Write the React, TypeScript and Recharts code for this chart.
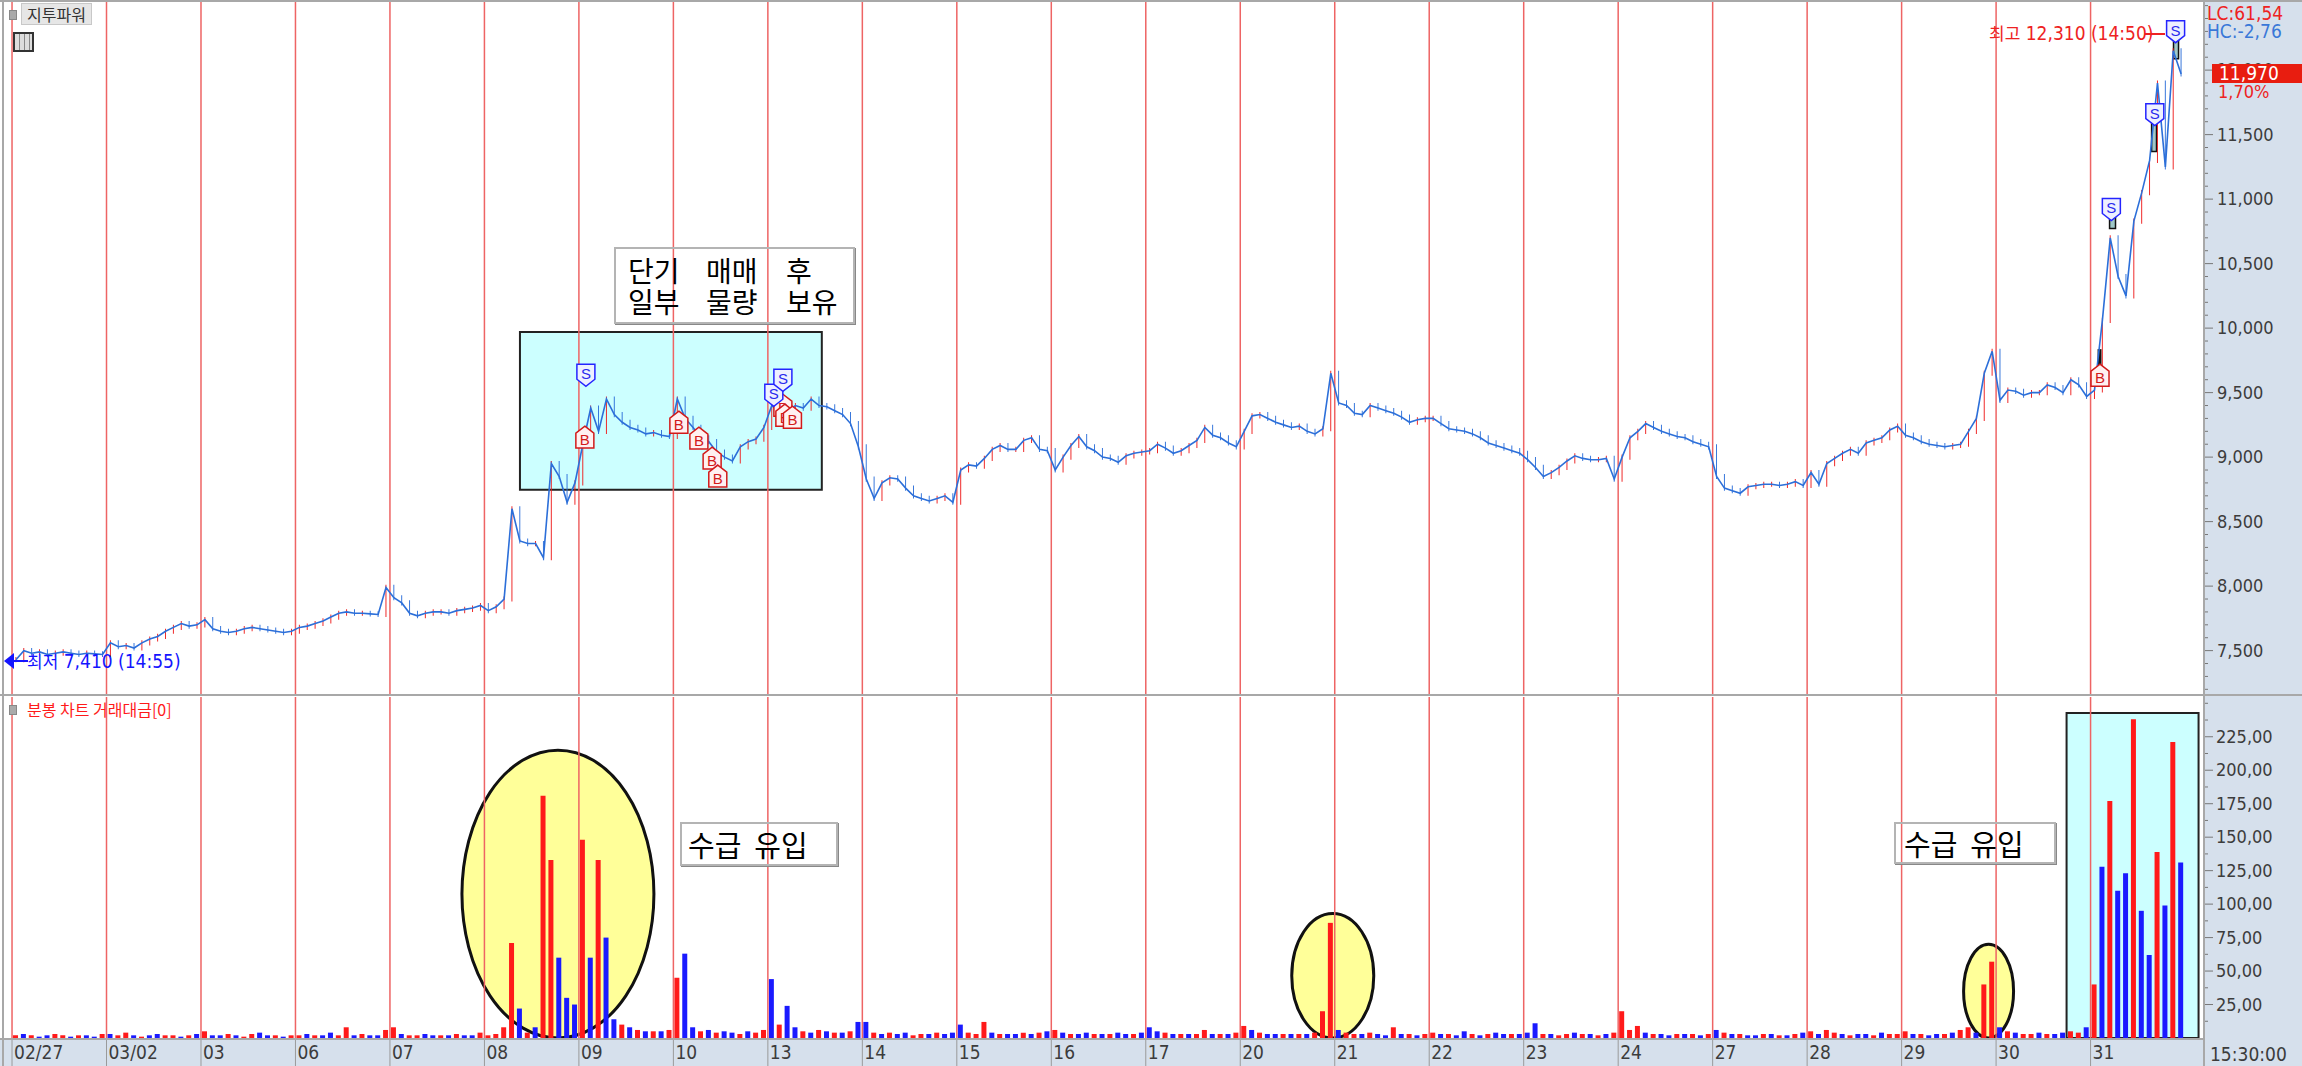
import { ComposedChart, Bar, Line, Scatter, XAxis, YAxis, ReferenceLine, ReferenceArea, Cell } from 'recharts'

// trading days shown on the x axis
const DAYS = ['02/27', '03/02', '03', '06', '07', '08', '09', '10', '13', '14', '15', '16', '17', '20', '21', '22', '23', '24', '27', '28', '29', '30', '31']

// closes sampled 12 times a day (won)
const p0227 = [7430, 7500, 7480, 7490, 7470, 7480, 7490, 7480, 7470, 7480, 7475, 7470]
const p0302 = [7560, 7530, 7540, 7520, 7560, 7590, 7610, 7650, 7680, 7710, 7690, 7700]
const p0303 = [7740, 7670, 7650, 7640, 7650, 7670, 7680, 7670, 7660, 7650, 7640, 7650]
const p0306 = [7680, 7690, 7710, 7730, 7760, 7790, 7800, 7790, 7790, 7785, 7780, 7990]
const p0307 = [7910, 7870, 7790, 7770, 7790, 7800, 7800, 7790, 7810, 7820, 7830, 7850]
const p0308 = [7810, 7840, 7900, 8600, 8350, 8330, 8330, 8220, 8950, 8850, 8650, 8800]
const p0309 = [9100, 9380, 9200, 9450, 9330, 9270, 9230, 9210, 9180, 9190, 9170, 9160]
const p0310 = [9450, 9300, 9230, 9150, 9120, 9040, 9000, 8970, 9080, 9120, 9140, 9230]
const p0313 = [9400, 9340, 9360, 9400, 9380, 9450, 9400, 9390, 9360, 9330, 9260, 9080]
const p0314 = [8830, 8680, 8800, 8840, 8830, 8760, 8700, 8680, 8660, 8680, 8700, 8650]
const p0315 = [8900, 8940, 8930, 8990, 9060, 9090, 9060, 9060, 9130, 9150, 9060, 9050]
const p0316 = [8900, 9000, 9090, 9160, 9080, 9050, 9000, 8990, 8960, 9010, 9030, 9040]
const p0317 = [9050, 9100, 9070, 9030, 9050, 9090, 9130, 9230, 9170, 9150, 9110, 9080]
const p0320 = [9200, 9320, 9330, 9300, 9270, 9250, 9230, 9240, 9200, 9180, 9220, 9650]
const p0321 = [9420, 9400, 9340, 9330, 9400, 9380, 9360, 9340, 9310, 9270, 9290, 9300]
const p0322 = [9300, 9260, 9220, 9210, 9200, 9180, 9150, 9110, 9090, 9070, 9050, 9030]
const p0323 = [8980, 8920, 8850, 8880, 8920, 8970, 9010, 8990, 8980, 8980, 8990, 8830]
const p0324 = [9000, 9150, 9200, 9260, 9230, 9200, 9180, 9160, 9150, 9120, 9100, 9080]
const p0327 = [8850, 8760, 8740, 8720, 8770, 8780, 8790, 8790, 8780, 8790, 8810, 8780]
const p0328 = [8880, 8790, 8950, 8990, 9030, 9060, 9030, 9110, 9130, 9150, 9210, 9240]
const p0329 = [9170, 9150, 9120, 9100, 9090, 9080, 9090, 9100, 9200, 9300, 9650, 9820]
const p0330 = [9440, 9520, 9510, 9480, 9500, 9500, 9560, 9540, 9500, 9600, 9560, 9470]
const p0331 = [9520, 10060, 10700, 10400, 10250, 10830, 11050, 11300, 11900, 11250, 12150, 11970]
const PRICE_DAYS = [p0227, p0302, p0303, p0306, p0307, p0308, p0309, p0310, p0313, p0314, p0315, p0316, p0317, p0320, p0321, p0322, p0323, p0324, p0327, p0328, p0329, p0330, p0331]

// trading value per sample (axis units) and bar colour (r = up, b = down)
const v0227 = [2, 3, 2, 1, 2, 3, 2, 1, 2, 2, 1, 3]
const v0302 = [3, 2, 4, 2, 1, 2, 3, 2, 2, 1, 2, 3]
const v0303 = [5, 2, 2, 3, 2, 1, 3, 4, 2, 2, 1, 2]
const v0306 = [2, 3, 2, 2, 4, 2, 8, 2, 3, 2, 2, 6]
const v0307 = [8, 3, 2, 2, 3, 2, 2, 2, 3, 2, 2, 4]
const v0308 = [2, 3, 8, 71, 22, 4, 8, 181, 133, 60, 30, 25]
const v0309 = [148, 60, 133, 75, 14, 10, 8, 6, 5, 5, 5, 6]
const v0310 = [45, 63, 8, 5, 6, 4, 5, 4, 3, 5, 4, 6]
const v0313 = [44, 10, 24, 8, 5, 4, 6, 5, 4, 4, 5, 12]
const v0314 = [12, 4, 3, 4, 3, 4, 2, 3, 3, 4, 3, 4]
const v0315 = [10, 4, 3, 12, 4, 3, 3, 3, 4, 3, 4, 5]
const v0316 = [6, 4, 3, 3, 4, 3, 3, 3, 4, 3, 3, 4]
const v0317 = [8, 5, 4, 3, 3, 3, 3, 6, 3, 3, 3, 4]
const v0320 = [9, 6, 4, 3, 3, 3, 3, 3, 3, 4, 20, 86]
const v0321 = [6, 4, 3, 3, 4, 3, 2, 8, 3, 3, 2, 3]
const v0322 = [4, 3, 3, 2, 5, 3, 2, 3, 4, 3, 3, 3]
const v0323 = [4, 11, 3, 3, 2, 3, 4, 3, 3, 2, 3, 4]
const v0324 = [20, 6, 9, 4, 3, 3, 2, 3, 3, 3, 2, 3]
const v0327 = [6, 4, 3, 3, 2, 2, 3, 3, 2, 2, 3, 4]
const v0328 = [5, 3, 6, 4, 3, 2, 3, 3, 2, 4, 3, 3]
const v0329 = [5, 3, 3, 2, 3, 3, 4, 6, 8, 4, 40, 57]
const v0330 = [8, 5, 4, 3, 3, 4, 3, 3, 4, 5, 4, 8]
const v0331 = [40, 128, 177, 110, 123, 238, 95, 62, 139, 99, 221, 131]
const VOL_DAYS = [v0227, v0302, v0303, v0306, v0307, v0308, v0309, v0310, v0313, v0314, v0315, v0316, v0317, v0320, v0321, v0322, v0323, v0324, v0327, v0328, v0329, v0330, v0331]
const VOL_COLORS = [
  'rbrbbrrbrbbr', 'brrbrbbrrbrb', 'rbbrbrrbbrbr', 'rbrbbrrbrbbr', 'rbrrbbrbrbbr',
  'rrrrbrbrrbbb', 'rbrbbrbrbrbr', 'rbbrbrbbrbrr', 'brbbrbrbrbrb', 'brbrbbrrbrbb',
  'brrrbrbbrbrb', 'rbrbbrbrbbrb', 'bbrbrbrrbrbr', 'rbrbbrbrbrrr', 'brrbrbbrbrbr',
  'rbrbbrbrbbrb', 'bbrbrrbrbrbr', 'rrrbrbbrbrbr', 'brbrbbrbrbrb', 'rbrrbrbbrbrr',
  'rbrbbrbrrbrr', 'brbrrbrbbrrb', 'rbrbbrbbrbrb',
]

// buy / sell signal markers (x in trading days, price)
const SELL_X = [6.074, 8.063, 8.159, 22.22, 22.68, 22.9]
const SELL_P = [9627, 9472, 9588, 10912, 11647, 12290]
const BUY_X = [6.063, 7.058, 7.27, 7.41, 7.47, 8.159, 8.18, 8.26, 22.1]
const BUY_P = [9163, 9279, 9155, 9000, 8861, 9410, 9333, 9317, 9643]

const PRICE_MAJOR = [7500, 8000, 8500, 9000, 9500, 10000, 10500, 11000, 11500, 12000]
const VOL_MAJOR = [25, 50, 75, 100, 125, 150, 175, 200, 225]

const PER_DAY = 12
const X_DOMAIN: [number, number] = [-0.085, 23.19]
const PRICE_DOMAIN: [number, number] = [7156, 12528]
const VOL_DOMAIN: [number, number] = [0, 254.7]
const RED = '#ee1c1c'
const BLUE = '#2c6fd9'
const VRED = '#ff1a1a'
const VBLUE = '#1a1aff'
const DAYLINE = '#ee6464'
const BAND = '#d6e0ec'
const NARROW = "'Liberation Sans Narrow', 'DejaVu Sans Condensed', Arial, sans-serif"
const KR = "'Noto Sans CJK KR', 'Noto Sans', sans-serif"

const priceRows = (() => {
  const flat = PRICE_DAYS.flatMap((vals, d) => vals.map((p, k) => ({ x: d + (k + 0.5) / PER_DAY, p })))
  return flat.map((r, i) => {
    const prev = i === 0 ? r.p : flat[i - 1].p
    return { ...r, range: [Math.min(prev, r.p) - 20, Math.max(prev, r.p) + 20], up: r.p >= prev }
  })
})()

const volRows = VOL_DAYS.flatMap((vals, d) =>
  vals.map((v, k) => ({ x: d + (k + 0.5) / PER_DAY, v, c: VOL_COLORS[d][k] })))

const sells = SELL_X.map((x, i) => ({ x, p: SELL_P[i] }))
const buys = BUY_X.map((x, i) => ({ x, p: BUY_P[i] }))

const priceTicks: number[] = []
for (let t = 7200; t <= 12500; t += 100) priceTicks.push(t)
const volTicks: number[] = []
for (let t = 12.5; t <= 250; t += 12.5) volTicks.push(t)

function PriceTick({ x, y, payload }: any) {
  const major = PRICE_MAJOR.includes(payload.value)
  const x0 = x - 8
  return (
    <g>
      <line x1={x0} x2={x0 + (major ? 10 : 5)} y1={y} y2={y} stroke="#777" />
      {major && (
        <text x={x0 + 14} y={y + 6} fontSize={18} fill="#3c3c3c" fontFamily={NARROW}>
          {payload.value.toLocaleString('en-US')}
        </text>
      )}
    </g>
  )
}

function VolTick({ x, y, payload }: any) {
  const major = VOL_MAJOR.includes(payload.value)
  const x0 = x - 8
  return (
    <g>
      <line x1={x0} x2={x0 + (major ? 10 : 5)} y1={y} y2={y} stroke="#777" />
      {major && (
        <text x={x0 + 13} y={y + 6} fontSize={18} fill="#3c3c3c" fontFamily={NARROW}>
          {payload.value},00
        </text>
      )}
    </g>
  )
}

function DayTick({ x, payload }: any) {
  return (
    <g>
      <line x1={x} x2={x} y1={343} y2={371} stroke="#9a9a9a" />
      <text x={x + 2} y={364} fontSize={19} fill="#3c3c3c" fontFamily={NARROW}>
        {DAYS[payload.value]}
      </text>
    </g>
  )
}

function SellMark({ cx, cy }: any) {
  return (
    <g>
      <polygon
        points={`${cx - 9},${cy - 12} ${cx + 9},${cy - 12} ${cx + 9},${cy + 3} ${cx},${cy + 10} ${cx - 9},${cy + 3}`}
        fill="#eef0ff" stroke="#2424ff" strokeWidth={1.5}
      />
      <text x={cx} y={cy + 3} textAnchor="middle" fontSize={15} fill="#2a2aee" fontFamily="Arial, sans-serif">S</text>
    </g>
  )
}

function BuyMark({ cx, cy }: any) {
  return (
    <g>
      <polygon
        points={`${cx},${cy - 10} ${cx + 9},${cy - 3} ${cx + 9},${cy + 12} ${cx - 9},${cy + 12} ${cx - 9},${cy - 3}`}
        fill="#fff0f0" stroke="#d21a1a" strokeWidth={1.5}
      />
      <text x={cx} y={cy + 9} textAnchor="middle" fontSize={15} fill="#d21a1a" fontFamily="Arial, sans-serif">B</text>
    </g>
  )
}

function Oval(props: any) {
  const { x, y, width, height } = props
  return (
    <ellipse cx={x + width / 2} cy={y + height / 2} rx={width / 2} ry={height / 2}
      fill="#ffff99" stroke="#111" strokeWidth={3} />
  )
}

const boxStyle: React.CSSProperties = {
  position: 'absolute', border: '2px solid #b4b4b4', boxShadow: '1px 1px 0 #888',
  fontFamily: KR, color: '#000', boxSizing: 'border-box',
}

export default function App() {
  return (
    <div style={{ position: 'fixed', left: 0, top: 0, width: 2302, height: 1066, background: '#fff', overflow: 'hidden' }}>
      <div style={{ position: 'absolute', left: 2203, top: 0, width: 99, height: 1066, background: BAND }} />
      <div style={{ position: 'absolute', left: 0, top: 1038, width: 2302, height: 28, background: BAND }} />

      <div style={{ position: 'absolute', left: 0, top: 0 }}>
        <ComposedChart width={2302} height={695} data={priceRows} margin={{ top: 2, right: 0, bottom: 0, left: 4 }}>
          <XAxis type="number" dataKey="x" domain={X_DOMAIN} hide allowDataOverflow />
          <YAxis orientation="right" domain={PRICE_DOMAIN} ticks={priceTicks} interval={0} width={99}
            axisLine={false} tickLine={false} tick={<PriceTick />} allowDataOverflow />
          <ReferenceArea x1={5.376} x2={8.571} y1={8747} y2={9969} fill="#ccffff" fillOpacity={1} stroke="#222" strokeWidth={2} />
          {DAYS.map((d, i) => <ReferenceLine key={d} x={i} stroke={DAYLINE} strokeWidth={1.5} />)}
          <Line dataKey="p" stroke={BLUE} strokeWidth={1.6} dot={false} isAnimationActive={false} />
          <Bar dataKey="range" barSize={4} isAnimationActive={false}>
            {priceRows.map((r, i) => <Cell key={i} fill={r.up ? RED : BLUE} />)}
          </Bar>
          <ReferenceArea x1={22.074} x2={22.116} y1={9551} y2={9837} fill="#111" fillOpacity={1} />
          <Scatter data={buys} dataKey="p" shape={<BuyMark />} isAnimationActive={false} />
          <Scatter data={sells} dataKey="p" shape={<SellMark />} isAnimationActive={false} />
          <ReferenceArea x1={22.201} x2={22.264} y1={10773} y2={10982} fill="#9fc8c8" fillOpacity={1} stroke="#111" strokeWidth={1.5} />
          <ReferenceArea x1={22.646} x2={22.698} y1={11369} y2={11717} fill="#9fc8c8" fillOpacity={1} stroke="#111" strokeWidth={1.5} />
          <ReferenceArea x1={22.878} x2={22.931} y1={12088} y2={12351} fill="#9fc8c8" fillOpacity={1} stroke="#111" strokeWidth={1.5} />
        </ComposedChart>
      </div>

      <div style={{ position: 'absolute', left: 0, top: 695 }}>
        <ComposedChart width={2302} height={371} data={volRows} margin={{ top: 2, right: 0, bottom: 0, left: 4 }}>
          <XAxis type="number" dataKey="x" domain={X_DOMAIN} ticks={DAYS.map((_, i) => i)} interval={0}
            height={28} axisLine={false} tickLine={false} tick={<DayTick />} allowDataOverflow />
          <YAxis orientation="right" domain={VOL_DOMAIN} ticks={volTicks} interval={0} width={99}
            axisLine={false} tickLine={false} tick={<VolTick />} allowDataOverflow />
          <ReferenceArea x1={21.746} x2={23.143} y1={0} y2={242.7} fill="#ccffff" fillOpacity={1} stroke="#222" strokeWidth={2} />
          <ReferenceArea x1={4.762} x2={6.794} y1={0} y2={215} shape={<Oval />} />
          <ReferenceArea x1={13.545} x2={14.413} y1={0} y2={93} shape={<Oval />} />
          <ReferenceArea x1={20.656} x2={21.185} y1={0} y2={70} shape={<Oval />} />
          {DAYS.map((d, i) => <ReferenceLine key={d} x={i} stroke={DAYLINE} strokeWidth={1.5} />)}
          <Bar dataKey="v" barSize={5} isAnimationActive={false}>
            {volRows.map((r, i) => <Cell key={i} fill={r.c === 'r' ? VRED : VBLUE} />)}
          </Bar>
        </ComposedChart>
      </div>

      {/* frame lines */}
      <div style={{ position: 'absolute', left: 0, top: 0, width: 2302, height: 2, background: '#a8a8a8' }} />
      <div style={{ position: 'absolute', left: 2, top: 0, width: 2, height: 1066, background: '#a8a8a8' }} />
      <div style={{ position: 'absolute', left: 0, top: 694, width: 2302, height: 2, background: '#a8a8a8' }} />
      <div style={{ position: 'absolute', left: 2203, top: 0, width: 2, height: 1066, background: '#a8a8a8' }} />
      <div style={{ position: 'absolute', left: 0, top: 1038, width: 2203, height: 2, background: '#a8a8a8' }} />

      {/* panel titles */}
      <div style={{ position: 'absolute', left: 9, top: 10, width: 6, height: 8, background: '#aaa', border: '1px solid #888' }} />
      <div style={{ position: 'absolute', left: 21, top: 3, padding: '0 5px', height: 20, background: '#e6e6e6', border: '1px solid #c8c8c8', fontFamily: KR, fontSize: 16, lineHeight: '20px', color: '#333' }}>지투파워</div>
      <div style={{ position: 'absolute', left: 13, top: 32, width: 17, height: 16, border: '2px solid #333', background: 'repeating-linear-gradient(90deg, #ddd 0 4px, #888 4px 5px)' }} />
      <div style={{ position: 'absolute', left: 9, top: 705, width: 6, height: 8, background: '#aaa', border: '1px solid #888' }} />
      <div style={{ position: 'absolute', left: 27, top: 698, fontFamily: KR, fontSize: 16, color: '#ff1a1a', lineHeight: '22px' }}>분봉 차트 거래대금[0]</div>

      {/* right axis annotations */}
      <div style={{ position: 'absolute', left: 2207, top: 3, fontFamily: NARROW, fontSize: 19, color: '#ee2222', lineHeight: '20px' }}>LC:61,54</div>
      <div style={{ position: 'absolute', left: 2207, top: 21, fontFamily: NARROW, fontSize: 19, color: '#3a78d8', lineHeight: '20px' }}>HC:-2,76</div>
      <div style={{ position: 'absolute', left: 2212, top: 64, width: 90, height: 19, background: '#e81d10', color: '#fff', fontFamily: NARROW, fontSize: 19, lineHeight: '19px', paddingLeft: 7, boxSizing: 'border-box' }}>11,970</div>
      <div style={{ position: 'absolute', left: 2218, top: 83, fontFamily: NARROW, fontSize: 18, color: '#ee2222', lineHeight: '18px' }}>1,70%</div>
      <div style={{ position: 'absolute', left: 2210, top: 1043, fontFamily: NARROW, fontSize: 19, color: '#3c3c3c', lineHeight: '22px' }}>15:30:00</div>

      {/* high / low labels */}
      <div style={{ position: 'absolute', left: 1989, top: 22, fontFamily: NARROW, fontSize: 19, color: '#ee2222', lineHeight: '22px', whiteSpace: 'pre' }}>
        <span style={{ fontFamily: KR, fontSize: 17 }}>최고</span> 12,310 (14:50)
      </div>
      <div style={{ position: 'absolute', left: 2145, top: 33, width: 20, height: 2, background: '#ee2222' }} />
      <svg style={{ position: 'absolute', left: 0, top: 650 }} width={30} height={24}>
        <polygon points="4,11 14,3 14,19" fill="#1414ff" />
        <line x1={12} x2={28} y1={11} y2={11} stroke="#1414ff" strokeWidth={2} />
      </svg>
      <div style={{ position: 'absolute', left: 27, top: 650, fontFamily: NARROW, fontSize: 19, color: '#1414ff', lineHeight: '22px', whiteSpace: 'pre' }}>
        <span style={{ fontFamily: KR, fontSize: 17 }}>최저</span> 7,410 (14:55)
      </div>

      {/* annotation boxes */}
      <div style={{ ...boxStyle, left: 614, top: 247, width: 241, height: 77 }}>
        {[['단기', '매매', '후'], ['일부', '물량', '보유']].map((line, li) => (
          <div key={li} style={{ position: 'absolute', left: 0, top: 7 + li * 31, height: 29, width: '100%', fontSize: 28, lineHeight: '29px' }}>
            {line.map((w, wi) => (
              <span key={wi} style={{ position: 'absolute', left: [12, 90, 170][wi], top: 0, height: 29, lineHeight: '29px' }}>{w}</span>
            ))}
          </div>
        ))}
      </div>
      <div style={{ ...boxStyle, left: 680, top: 822, width: 158, height: 44, fontSize: 29, lineHeight: '40px', paddingLeft: 6, whiteSpace: 'pre' }}>수급  유입</div>
      <div style={{ ...boxStyle, left: 1894, top: 822, width: 162, height: 42, fontSize: 29, lineHeight: '38px', paddingLeft: 8, whiteSpace: 'pre' }}>수급  유입</div>
    </div>
  )
}
